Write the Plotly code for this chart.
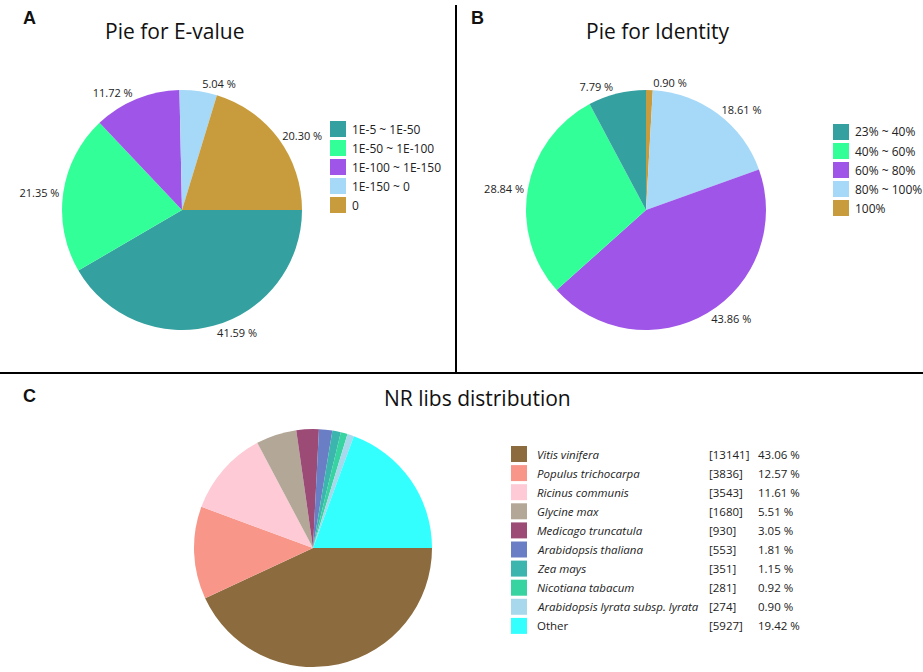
import plotly.graph_objects as go

W, H = 923, 672
FONT = "Open Sans"

# ---- data -------------------------------------------------------------
evalue_labels = ["1E-5 ~ 1E-50", "1E-50 ~ 1E-100", "1E-100 ~ 1E-150", "1E-150 ~ 0", "0"]
evalue_pct = [41.59, 21.35, 11.72, 5.04, 20.30]

identity_labels = ["23% ~ 40%", "40% ~ 60%", "60% ~ 80%", "80% ~ 100%", "100%"]
identity_pct = [7.79, 28.84, 43.86, 18.61, 0.90]

species = [
    "Vitis vinifera", "Populus trichocarpa", "Ricinus communis", "Glycine max",
    "Medicago truncatula", "Arabidopsis thaliana", "Zea mays", "Nicotiana tabacum",
    "Arabidopsis lyrata subsp. lyrata", "Other",
]
species_counts = [13141, 3836, 3543, 1680, 930, 553, 351, 281, 274, 5927]
species_pct = [43.06, 12.57, 11.61, 5.51, 3.05, 1.81, 1.15, 0.92, 0.90, 19.42]

five_colors = ["#35a0a0", "#33ff99", "#9e55e8", "#a6d8f8", "#c89c3c"]
species_colors = ["#8c6b3e", "#f8968a", "#fdcad5", "#b3a797", "#9c4b77",
                  "#6a7ec5", "#3bb5ad", "#37d3a0", "#a7d8eb", "#33ffff"]


# ---- helpers: pixel positions -> paper coordinates ----------------------
def px(x):
    return x / W


def py(y):
    return 1 - y / H


def pie_domain(cx, cy, r):
    return dict(x=[px(cx - r), px(cx + r)], y=[py(cy + r), py(cy - r)])


fig = go.Figure()

fig.add_trace(go.Pie(
    labels=evalue_labels, values=evalue_pct, sort=False,
    direction="clockwise", rotation=90,
    marker=dict(colors=five_colors, line=dict(width=0)),
    texttemplate="%{value:.2f} %", textposition="outside",
    textfont=dict(family=FONT, size=11, color="#222"),
    domain=pie_domain(182, 210, 120), showlegend=False, hoverinfo="label+value",
))

# identity pie runs clockwise from 12 o'clock in reverse legend order
fig.add_trace(go.Pie(
    labels=identity_labels[::-1], values=identity_pct[::-1], sort=False,
    direction="clockwise", rotation=0,
    marker=dict(colors=five_colors[::-1], line=dict(width=0)),
    texttemplate="%{value:.2f} %", textposition="outside",
    textfont=dict(family=FONT, size=11, color="#222"),
    domain=pie_domain(646, 210, 120), showlegend=False, hoverinfo="label+value",
))

fig.add_trace(go.Pie(
    labels=species, values=species_counts, sort=False,
    direction="clockwise", rotation=90,
    marker=dict(colors=species_colors, line=dict(width=0)),
    textinfo="none",
    domain=pie_domain(313, 548, 119), showlegend=False, hoverinfo="label+value",
))

shapes = []
annotations = []


def text(x, y, s, size=11.5, anchor="left", **kw):
    annotations.append(dict(
        x=px(x), y=py(y), xref="paper", yref="paper", text=s, showarrow=False,
        xanchor=anchor, yanchor="middle",
        font=dict(family=FONT, size=size, color=kw.pop("color", "#222")), **kw))


def swatch(x, y, color, size=16):
    shapes.append(dict(type="rect", xref="paper", yref="paper",
                       x0=px(x), x1=px(x + size), y0=py(y + size / 2), y1=py(y - size / 2),
                       fillcolor=color, line=dict(width=0)))


# legends for A and B
for i, lab in enumerate(evalue_labels):
    y = 129 + i * 19
    swatch(330, y, five_colors[i])
    text(350, y, lab, size=12)
for i, lab in enumerate(identity_labels):
    y = 132 + i * 19
    swatch(833, y, five_colors[i])
    text(853, y, lab, size=12)

# table-like legend for C
for i, name in enumerate(species):
    y = 454 + i * 19.1
    swatch(511, y, species_colors[i])
    label = name if name == "Other" else f"<i>{name}</i>"
    text(535, y, label)
    text(707, y, f"[{species_counts[i]}]")
    text(756, y, f"{species_pct[i]:.2f} %")

# titles and panel letters
text(174, 31, "Pie for E-value", size=21, anchor="center", color="#111")
text(658, 31, "Pie for Identity", size=21, anchor="center", color="#111")
text(477, 398, "NR libs distribution", size=21, anchor="center", color="#111")
for letter, x, y in [("A", 30, 18), ("B", 478, 18), ("C", 30, 396)]:
    annotations.append(dict(x=px(x), y=py(y), xref="paper", yref="paper", text=f"<b>{letter}</b>",
                            showarrow=False, xanchor="center", yanchor="middle",
                            font=dict(family="Liberation Sans", size=18, color="#111")))

# panel dividers
shapes.append(dict(type="line", xref="paper", yref="paper", x0=px(456), x1=px(456),
                   y0=py(5), y1=py(373), line=dict(color="black", width=2)))
shapes.append(dict(type="line", xref="paper", yref="paper", x0=0, x1=1,
                   y0=py(373), y1=py(373), line=dict(color="black", width=2)))

fig.update_layout(
    width=W, height=H, margin=dict(l=0, r=0, t=0, b=0),
    paper_bgcolor="white", plot_bgcolor="white",
    shapes=shapes, annotations=annotations, showlegend=False,
)

fig.write_html("out.html")
